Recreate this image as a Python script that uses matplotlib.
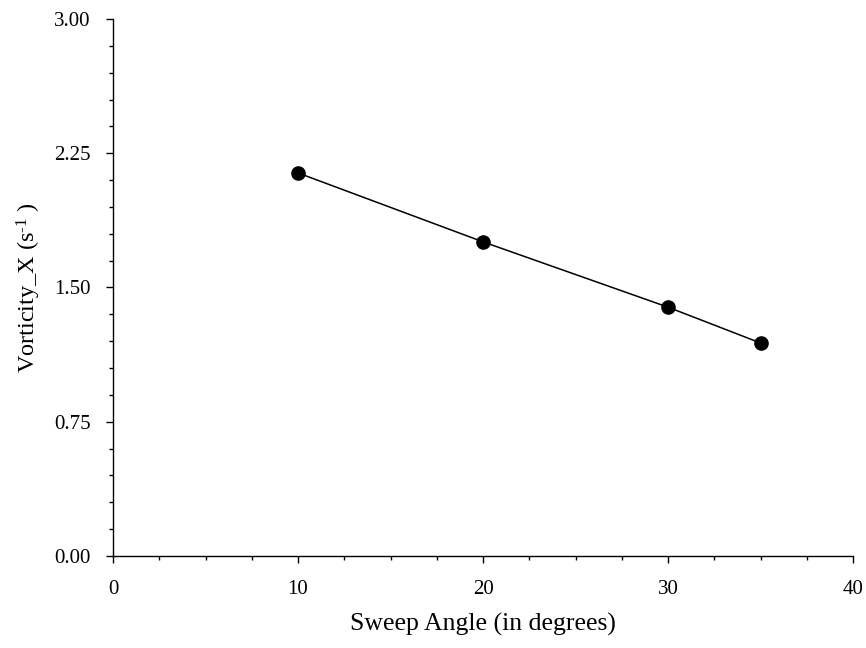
import matplotlib
matplotlib.use("Agg")
import matplotlib.pyplot as plt
from matplotlib.ticker import MultipleLocator, FormatStrFormatter

sweep_angle = [10, 20, 30, 35]
vorticity_x = [2.14, 1.755, 1.39, 1.19]
x_ticks = [0, 10, 20, 30, 40]
y_ticks = [0.00, 0.75, 1.50, 2.25, 3.00]

plt.rcParams['font.family'] = ['Liberation Serif', 'DejaVu Serif']
plt.rcParams['mathtext.fontset'] = 'custom'
plt.rcParams['mathtext.rm'] = 'Liberation Serif'
plt.rcParams['mathtext.it'] = 'Liberation Serif:italic'
plt.rcParams['mathtext.bf'] = 'Liberation Serif:bold'

fig = plt.figure(figsize=(8.66, 6.48), dpi=100)
ax = fig.add_axes([0.1305, 0.142, 0.8545, 0.8287])

ax.plot(sweep_angle, vorticity_x, color='black', lw=1.1, marker='o', ms=9.5,
        markerfacecolor='black', markeredgecolor='black', clip_on=False)

ax.set_xlim(0, 40)
ax.set_ylim(0, 3.0)
ax.set_xticks(x_ticks)
ax.set_yticks(y_ticks)
ax.yaxis.set_major_formatter(FormatStrFormatter('%.2f'))
ax.xaxis.set_minor_locator(MultipleLocator(2.5))
ax.yaxis.set_minor_locator(MultipleLocator(0.15))
ax.tick_params(which='major', direction='out', length=5, width=1.0, labelsize=15, colors='black')
ax.tick_params(axis='y', which='major', pad=11)
ax.tick_params(axis='x', which='major', pad=12.5)
ax.tick_params(which='minor', direction='out', length=3, width=1.0)
for s in ['top', 'right']:
    ax.spines[s].set_visible(False)
for s in ['left', 'bottom']:
    ax.spines[s].set_linewidth(1.0)

ax.set_xlabel('Sweep Angle (in degrees)', fontsize=18.5, labelpad=10)
ax.set_ylabel('Vorticity_X (s$^{\\text{-}1}$ )', fontsize=17.5, labelpad=8)

fig.savefig('out.png', dpi=100)
